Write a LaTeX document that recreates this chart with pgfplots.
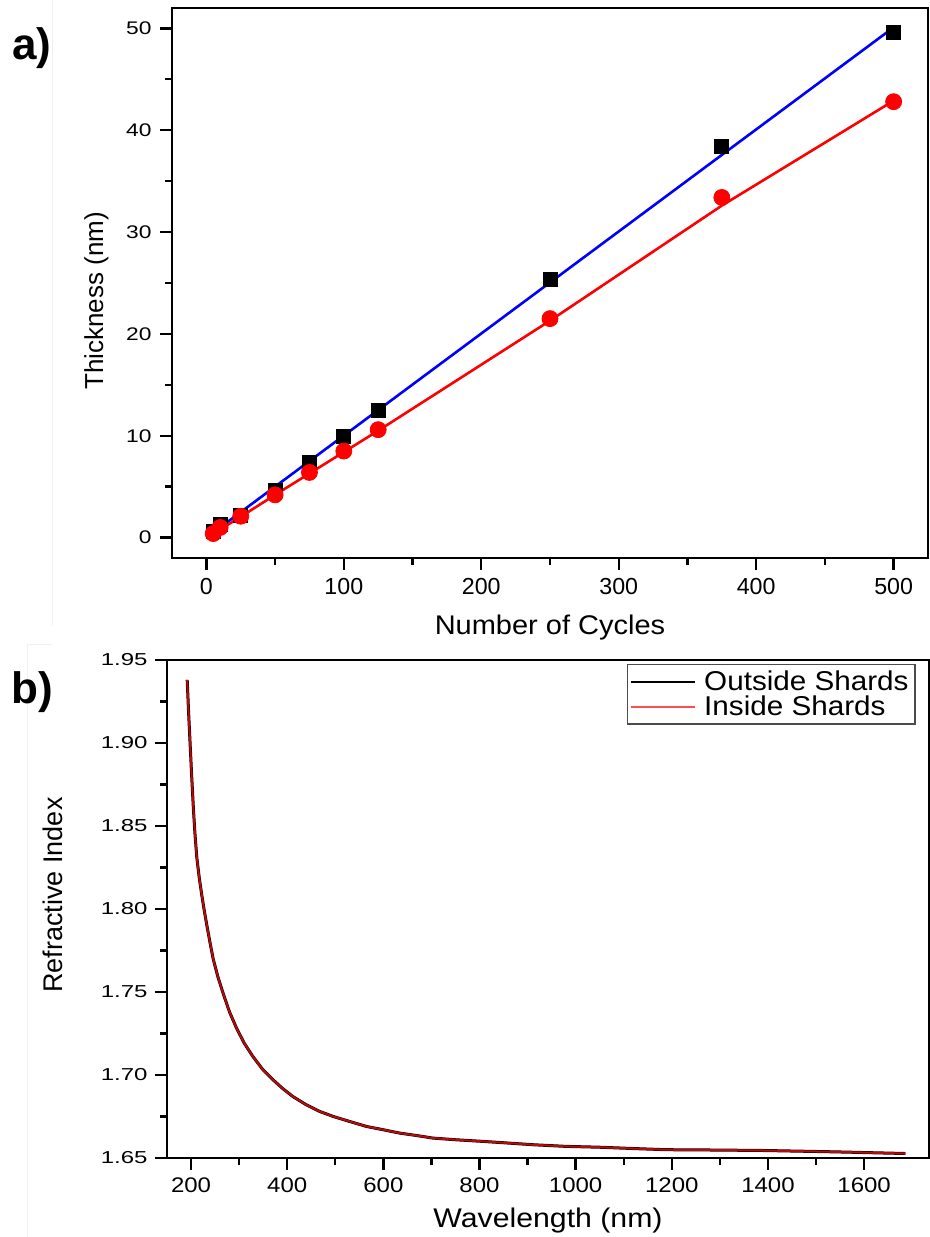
\documentclass[border=0pt]{standalone}
\usepackage{fontspec}
\setmainfont{Liberation Sans}
\usepackage{pgfplots}
\pgfplotsset{compat=1.18}
\begin{document}
\begin{tikzpicture}
\pgfplotsset{
  myaxis/.style={
    scale only axis,
    axis line style={line width=1.2pt},
    every tick/.style={black, line width=1.2pt},
    tick align=outside,
    major tick length=6pt,
    minor tick length=3.5pt,
    xtick pos=left, ytick pos=left,
    /pgf/number format/assume math mode=true,
    /pgf/number format/set thousands separator={},
    clip=false,
  }
}
% faint cropping lines of the source image
\draw[gray!12, line width=0.5pt] (26pt,618.5pt) -- (26pt,306pt);
\draw[gray!12, line width=0.5pt] (13.5pt,0pt) -- (13.5pt,296pt) -- (26pt,296pt);

% ---------------- panel a ----------------
\begin{axis}[myaxis,
  at={(86pt,339.5pt)}, anchor=south west,
  width=378pt, height=275pt,
  xmin=-25, xmax=525, ymin=-2, ymax=52,
  xtick={0,100,...,500}, minor x tick num=1,
  ytick={0,10,...,50}, minor y tick num=1,
  xticklabel style={font=\fontsize{11.6}{13}\selectfont, inner sep=0pt, yshift=-4pt},
  yticklabel style={font=\fontsize{11.4}{13}\selectfont, inner sep=0pt, xshift=-4pt, yscale=0.8},
  every axis x label/.style={at={(axis description cs:0.5,0)}, anchor=base, yshift=-38.5pt, font=\fontsize{14.5}{16}\selectfont, yscale=0.93},
  every axis y label/.style={at={(axis description cs:0,0.5)}, xshift=-34.5pt, yshift=-9pt, rotate=90, anchor=base, font=\fontsize{13}{15}\selectfont},
  xlabel={Number of Cycles},
  ylabel={Thickness (nm)},
]
\addplot[only marks, mark=square*, mark size=3.5pt, black] coordinates {
 (5,0.6) (10,1.3) (25,2.2) (50,4.6) (75,7.4) (100,9.9) (125,12.5) (250,25.4) (375,38.4) (500,49.6)};
\addplot[only marks, mark=*, mark size=4pt, red] coordinates {
 (5,0.4) (10,1.0) (25,2.1) (50,4.2) (75,6.4) (100,8.5) (125,10.6) (250,21.5) (375,33.4) (500,42.8)};
\addplot[no marks, blue, line width=1.3pt] coordinates {(5,0.5) (500,50.1)};
\addplot[no marks, red, line width=1.3pt] coordinates {
 (5,0.35) (10,0.8) (25,2.05) (50,4.2) (75,6.3) (100,8.4) (125,10.5) (250,21.3) (375,32.6) (500,42.9)};
\end{axis}
\node[font=\fontsize{22}{24}\selectfont\bfseries] at (16pt,594.5pt) {a)};

% ---------------- panel b ----------------
\begin{axis}[myaxis,
  at={(83.5pt,39.5pt)}, anchor=south west,
  width=381pt, height=249pt,
  xmin=150, xmax=1735, ymin=1.65, ymax=1.95,
  xtick={200,400,...,1600}, minor x tick num=1,
  ytick={1.65,1.70,...,1.95}, minor y tick num=1,
  yticklabel={\pgfmathprintnumber[fixed,fixed zerofill,precision=2]{\tick}},
  xticklabel style={font=\fontsize{12}{14}\selectfont, inner sep=0pt, yshift=-3.5pt, yscale=0.88},
  yticklabel style={font=\fontsize{12}{14}\selectfont, inner sep=0pt, xshift=-3.5pt, yscale=0.72},
  every axis x label/.style={at={(axis description cs:0.5,0)}, anchor=base, yshift=-34.5pt, font=\fontsize{13.5}{15}\selectfont, xscale=1.12},
  every axis y label/.style={at={(axis description cs:0,0.5)}, xshift=-52pt, yshift=7pt, rotate=90, anchor=base, font=\fontsize{13.5}{15}\selectfont},
  xlabel={Wavelength (nm)},
  ylabel={Refractive Index},
  legend style={at={(0.604,0.992)}, anchor=north west, draw=black!70, line width=0.6pt,
    font=\fontsize{13.6}{13.6}\selectfont, inner sep=1pt, row sep=-3pt, column sep=2pt,
    nodes={xscale=1.09},
    legend cell align=left},
  legend image code/.code={\draw[#1] (0pt,0pt) -- (32pt,0pt);},
]
\addlegendimage{black, line width=1pt}
\addlegendentry{Outside Shards}
\addlegendimage{red!70, line width=1pt}
\addlegendentry{Inside Shards}
\pgfplotstableread{
lam n
192 1.938
195 1.918
198 1.900
201 1.882
205 1.860
208 1.846
212 1.831
217 1.819
222 1.809
227 1.800
233 1.790
240 1.779
246 1.770
256 1.759
267 1.749
280 1.738
295 1.728
311 1.719
329 1.711
350 1.703
371 1.697
390 1.692
412 1.687
440 1.682
468 1.678
496 1.675
530 1.672
565 1.669
600 1.667
634 1.665
670 1.6635
703 1.662
750 1.661
807 1.660
860 1.659
911 1.658
980 1.657
1049 1.6565
1120 1.6557
1188 1.655
1290 1.6548
1396 1.6545
1540 1.6537
1686 1.6527
}\curvedata
\addplot[forget plot, no marks, black, line width=1.5pt] table[x=lam,y=n] {\curvedata};
\addplot[forget plot, no marks, color={rgb,255:red,185;green,10;blue,10}, line width=1.0pt] table[x=lam,y=n] {\curvedata};
\end{axis}
\node[font=\fontsize{22}{24}\selectfont\bfseries] at (16pt,272.5pt) {b)};

\pgfresetboundingbox
\path (0pt,0pt) rectangle (465pt,618.5pt);
\end{tikzpicture}
\end{document}
